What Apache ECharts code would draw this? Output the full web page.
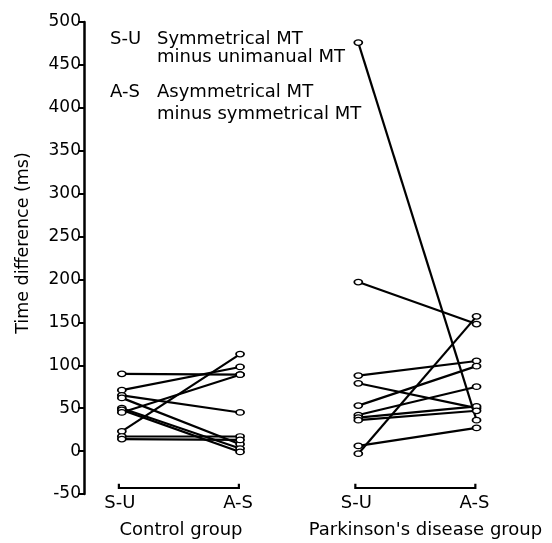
<!DOCTYPE html>
<html>
<head>
<meta charset="utf-8">
<script src="https://cdn.jsdelivr.net/npm/echarts@6/dist/echarts.min.js"></script>
<style>
html,body{margin:0;padding:0;background:#fff;}
#chart{width:552px;height:543px;}
</style>
</head>
<body>
<div id="chart"></div>
<script>
// ---- data ----
var conditions = ['S-U', 'A-S'];
var groups = ['Control group', "Parkinson's disease group"];
var ctrlSU = [90, 71, 65, 62, 50, 48, 45, 23, 17, 14];
var ctrlAS = [89, 98, 45, 8, 3, -1, 89, 113, 17, 13];
var pdSU = [476, 197, 88, 79, 53, 42, 39, 36, -3, 6];
var pdAS = [36, 148, 105, 50, 99, 75, 52, 47, 157, 27];
var yTicks = {min: -50, max: 500, step: 50};
var legendLines = [
  ['S-U', 'Symmetrical MT'],
  ['', 'minus unimanual MT'],
  ['A-S', 'Asymmetrical MT'],
  ['', 'minus symmetrical MT']
];
var yTitle = 'Time difference (ms)';

var FONT = 'DejaVu Sans';
var chart = echarts.init(document.getElementById('chart'));

function pairSeries(su, as, groupIdx) {
  return su.map(function (v, i) {
    return {
      type: 'line',
      data: [[groupIdx * 2, v], [groupIdx * 2 + 1, as[i]]],
      symbol: 'circle',
      symbolSize: [8, 5.5],
      showSymbol: true,
      lineStyle: {color: '#000', width: 2.2},
      itemStyle: {color: '#fff', borderColor: '#000', borderWidth: 1.5},
      emphasis: {disabled: true},
      silent: true,
      animation: false,
      z: 3
    };
  });
}

var series = [].concat(pairSeries(ctrlSU, ctrlAS, 0), pairSeries(pdSU, pdAS, 1));

series.push({
  type: 'custom',
  data: groups.map(function (g, i) { return [i]; }),
  clip: false,
  silent: true,
  animation: false,
  renderItem: function (params, api) {
    var gi = api.value(0);
    var x0 = gi * 2, x1 = gi * 2 + 1;
    var a = api.coord([x0 - 0.025, -43]);
    var b = api.coord([x1 - 0.01, -43]);
    var top = api.coord([x0, -38])[1];
    var base = api.coord([x0, yTicks.min])[1];
    var c0 = api.coord([x0, yTicks.min]);
    var c1 = api.coord([x1, yTicks.min]);
    return {
      type: 'group',
      children: [
        {type: 'polyline', shape: {points: [[a[0], top], [a[0], a[1]], [b[0], b[1]], [b[0], top]]},
          style: {stroke: '#000', lineWidth: 2.2, fill: null}},
        {type: 'text', style: {x: c0[0] - 2, y: base + 9, text: conditions[0], font: '18px "' + FONT + '"', fill: '#000', align: 'center', verticalAlign: 'middle'}},
        {type: 'text', style: {x: c1[0] - 2, y: base + 9, text: conditions[1], font: '18px "' + FONT + '"', fill: '#000', align: 'center', verticalAlign: 'middle'}},
        {type: 'text', style: {x: (c0[0] + c1[0]) / 2 + (gi === 1 ? 8 : 0), y: base + 36, text: groups[gi], font: '18px "' + FONT + '"', fill: '#000', align: 'center', verticalAlign: 'middle'}}
      ]
    };
  }
});

var legendY = [41, 59.5, 94.5, 116];
var graphics = [];
legendLines.forEach(function (ln, i) {
  if (ln[0]) {
    graphics.push({type: 'text', left: 110, top: legendY[i] - 11, style: {text: ln[0], font: '18px "' + FONT + '"', fill: '#000'}});
  }
  graphics.push({type: 'text', left: 157, top: legendY[i] - 11, style: {text: ln[1], font: '18px "' + FONT + '"', fill: '#000'}});
});
graphics.push({
  type: 'text',
  x: 23, y: 243,
  rotation: Math.PI / 2,
  style: {text: yTitle, font: '17.5px "' + FONT + '"', fill: '#000', align: 'center', verticalAlign: 'middle'}
});

chart.setOption({
  animation: false,
  backgroundColor: '#fff',
  grid: {left: 84, right: 40, top: 22, bottom: 49, containLabel: false},
  xAxis: {type: 'value', min: -0.32, max: 3.3, show: false},
  yAxis: {
    type: 'value',
    min: yTicks.min, max: yTicks.max, interval: yTicks.step,
    axisLine: {show: true, onZero: false, lineStyle: {color: '#000', width: 2.5}},
    axisTick: {show: true, length: 6, lineStyle: {color: '#000', width: 2}},
    axisLabel: {color: '#000', fontSize: 17, fontFamily: FONT, margin: 3},
    splitLine: {show: false}
  },
  graphic: graphics,
  series: series
});
</script>
</body>
</html>
